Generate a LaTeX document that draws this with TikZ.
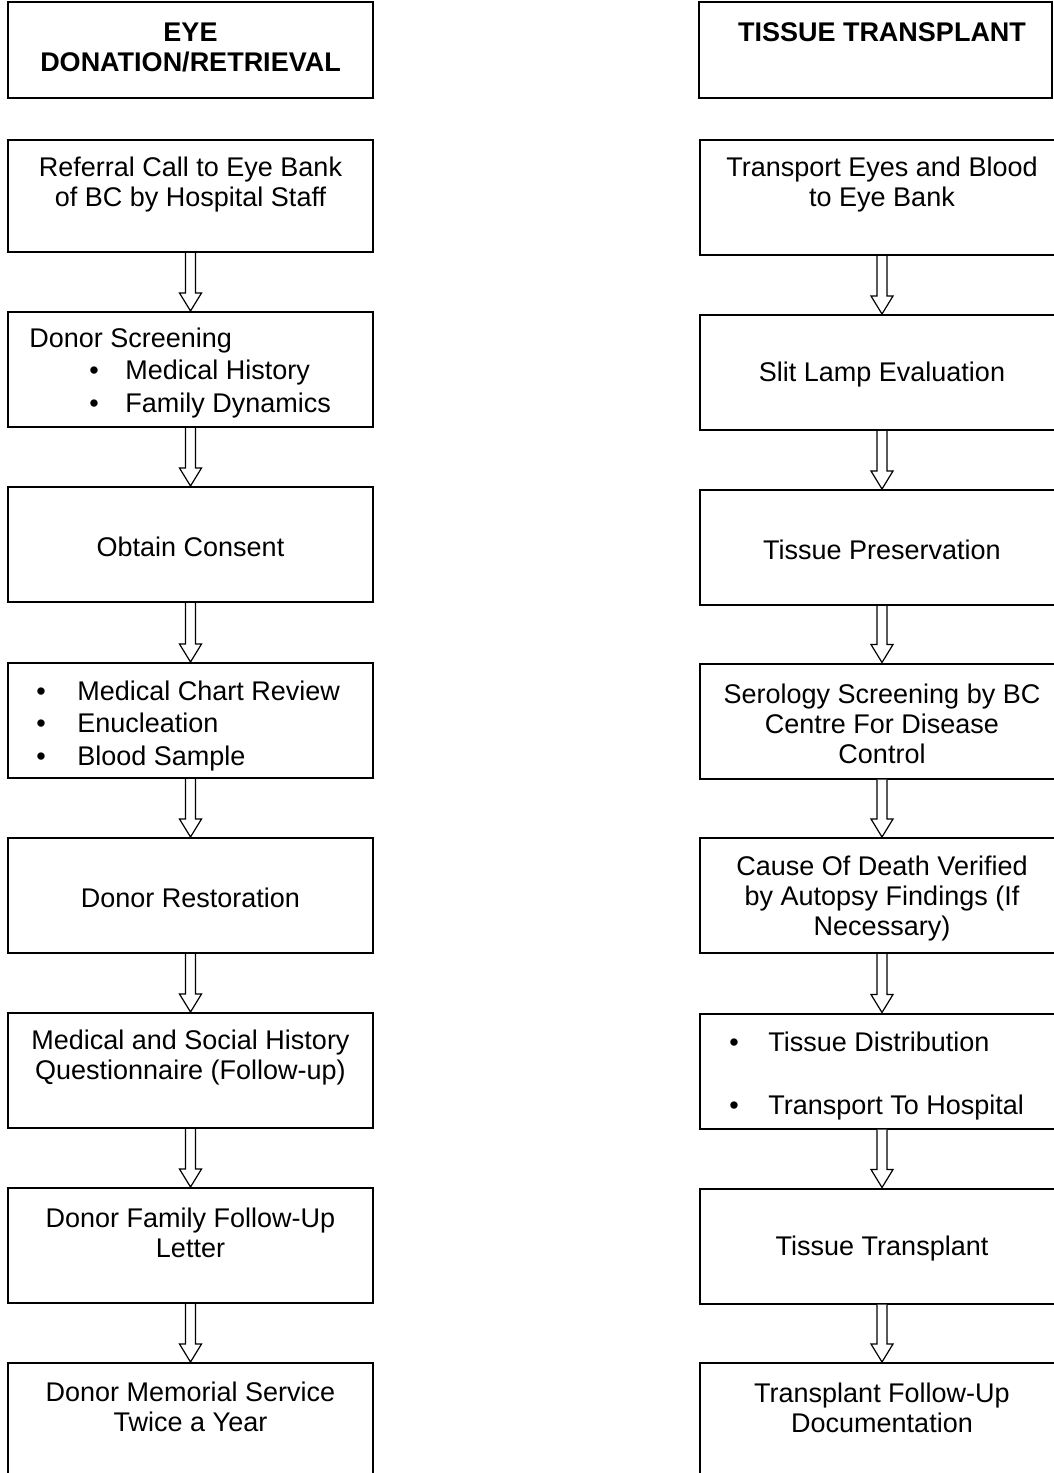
\documentclass[tikz,border=0pt]{standalone}
\usepackage{fontspec}
\setmainfont{Liberation Sans}
\usetikzlibrary{calc}

\tikzset{
  stage/.style={draw, line width=1pt, minimum width=182.5pt, minimum height=57.5pt, inner sep=0pt},
  headbox/.style={stage, minimum height=48pt},
  txt/.style={inner sep=0pt, align=center, yshift=-1.25pt, font=\fontsize{13.5}{15}\selectfont},
  listtxt/.style={inner sep=0pt, align=left, anchor=west, yshift=-1.25pt, font=\fontsize{13.5}{16.25}\selectfont},
  flowarrow/.style={line width=0.6pt, fill=white}
}

\begin{document}
\begin{tikzpicture}[x=0.5pt, y=-0.5pt]
  \useasboundingbox (0,0) rectangle (1054,1473);

  % Left column: donation / retrieval
  \node[headbox] (l1) at (190.5,50) {};
  \node[txt, font=\fontsize{13.5}{15}\selectfont\bfseries] (l1t) at (190.5,45) {EYE\\DONATION/RETRIEVAL};
  \node[stage, minimum height=56pt] (l2) at (190.5,196) {};
  \node[txt] (l2t) at (190.5,182) {Referral Call to Eye Bank\\of BC by Hospital Staff};
  \node[stage] (l3) at (190.5,369.5) {};
  \node[listtxt] (l3t) at (29,370.5) {Donor Screening\\
    \hspace*{30pt}\makebox[18pt][l]{\textbullet}Medical History\\
    \hspace*{30pt}\makebox[18pt][l]{\textbullet}Family Dynamics};
  \node[stage] (l4) at (190.5,544.5) {};
  \node[txt] (l4t) at (190.5,544) {Obtain Consent};
  \node[stage] (l5) at (190.5,720.5) {};
  \node[listtxt] (l5t) at (36,723.5) {\makebox[20.5pt][l]{\textbullet}Medical Chart Review\\
    \makebox[20.5pt][l]{\textbullet}Enucleation\\
    \makebox[20.5pt][l]{\textbullet}Blood Sample};
  \node[stage] (l6) at (190.5,895.5) {};
  \node[txt] (l6t) at (190.5,895) {Donor Restoration};
  \node[stage] (l7) at (190.5,1070.5) {};
  \node[txt] (l7t) at (190.5,1055) {Medical and Social History\\Questionnaire (Follow-up)};
  \node[stage] (l8) at (190.5,1245.5) {};
  \node[txt] (l8t) at (190.5,1230) {Donor Family Follow-Up\\Letter};
  \node[stage] (l9) at (190.5,1420.5) {};
  \node[txt] (l9t) at (190.5,1404.5) {Donor Memorial Service\\Twice a Year};

  % Right column: tissue transplant
  \node[headbox, minimum width=176.5pt] (r1) at (875.5,50) {};
  \node[txt, font=\fontsize{13.5}{15}\selectfont\bfseries] (r1t) at (882,30) {TISSUE TRANSPLANT};
  \node[stage] (r2) at (882,197.5) {};
  \node[txt] (r2t) at (882,182) {Transport Eyes and Blood\\to Eye Bank};
  \node[stage] (r3) at (882,372.5) {};
  \node[txt] (r3t) at (882,372) {Slit Lamp Evaluation};
  \node[stage] (r4) at (882,547.5) {};
  \node[txt] (r4t) at (882,547) {Tissue Preservation};
  \node[stage] (r5) at (882,721) {};
  \node[txt] (r5t) at (882,721.5) {Serology Screening by BC\\Centre For Disease\\Control};
  \node[stage] (r6) at (882,895.5) {};
  \node[txt] (r6t) at (882,896) {Cause Of Death Verified\\by Autopsy Findings (If\\Necessary)};
  \node[stage] (r7) at (882,1071) {};
  \node[listtxt, font=\fontsize{13.5}{31.5}\selectfont] (r7t) at (729,1073.5) {\makebox[19.5pt][l]{\textbullet}Tissue Distribution\\
    \makebox[19.5pt][l]{\textbullet}Transport To Hospital};
  \node[stage] (r8) at (882,1246) {};
  \node[txt] (r8t) at (882,1246) {Tissue Transplant};
  \node[stage] (r9) at (882,1420.5) {};
  \node[txt] (r9t) at (882,1405) {Transplant Follow-Up\\Documentation};

  % hollow block arrows between the stages
  \foreach \a/\b in {l2/l3, l3/l4, l4/l5, l5/l6, l6/l7, l7/l8, l8/l9,
                     r2/r3, r3/r4, r4/r5, r5/r6, r6/r7, r7/r8, r8/r9}
    \draw[flowarrow] ($(\a.south)+(-5,0)$) -- ($(\b.north)+(-5,-18)$) -- ++(-6,0)
      -- (\b.north) -- ++(11,-18) -- ++(-6,0) -- ($(\a.south)+(5,0)$);
\end{tikzpicture}
\end{document}
